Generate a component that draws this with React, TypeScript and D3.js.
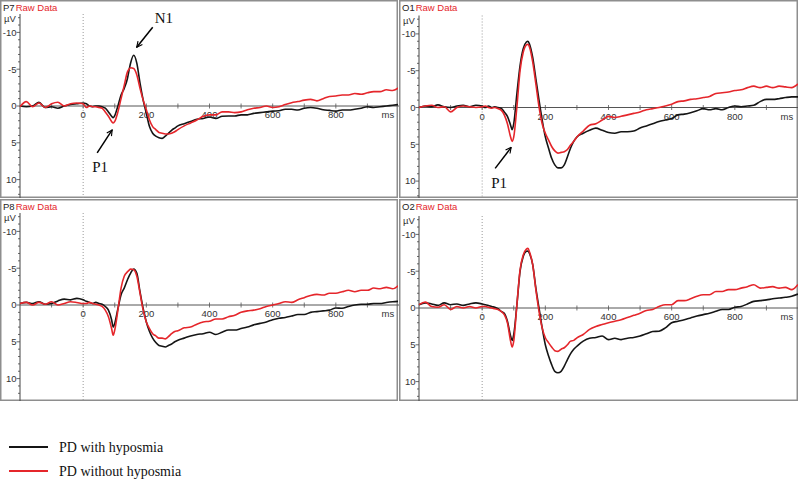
import * as d3 from "d3";

// sample times (ms)
const TIMES = [
  -200, -180, -160, -140, -120, -100, -80, -60, -40, -20, 0,
  10, 20, 30, 40, 50, 60, 70, 80, 90, 95, 100, 110, 120, 130, 140, 145, 150,
  160, 170, 180, 190, 200, 210, 220, 230, 240, 250, 260, 270, 280, 290, 300,
  320, 340, 360, 380, 400, 420, 440, 460, 480, 500, 520, 540, 560, 580, 600,
  620, 640, 660, 680, 700, 720, 740, 760, 780, 800, 820, 840, 860, 880, 900,
  920, 940, 960, 980, 1000,
];

// µV, negative up
const P7_HYPO = [
  0, 0.1, 0, -0.5, 0.2, 0.1, 0.3, 0, -0.2, -0.3, -0.4,
  -0.3, 0, 0.1, 0, 0, 0.1, 0.3, 0.8, 1.4, 1.6, 1.3, 0, -1.5, -2.4, -3.7, -4.8, -5.8,
  -6.9, -5.8, -3.1, -0.8, 1.0, 2.8, 3.7, 4.1, 4.3, 4.4, 4.1, 3.7, 3.3, 3.0, 2.7,
  2.4, 2.1, 1.8, 1.7, 1.5, 1.7, 1.4, 1.35, 1.35, 1.2, 1.2, 1.0, 0.9, 0.8, 0.7,
  0.65, 0.45, 0.45, 0.55, 0.3, 0.2, 0.3, 0.5, 0.6, 0.7, 0.55, 0.55, 0.45, 0.3, 0.1,
  0.2, 0.1, 0, -0.1, -0.2,
];
const P7_NORM = [
  0.1, -0.6, 0.1, -0.4, 0.2, -0.3, -0.5, 0, -0.3, -0.4, -0.3,
  0.2, 0, 0.1, 0.1, 0.2, 0.3, 0.8, 1.4, 2.1, 2.3, 2.1, 0.8, -1.0, -2.8, -4.6, -5.0, -5.2,
  -5.1, -4.2, -2.4, -0.8, 0.5, 1.9, 2.8, 3.2, 3.6, 3.7, 3.8, 3.8, 3.7, 3.5, 3.2,
  2.7, 2.3, 1.9, 1.4, 1.2, 1.2, 0.8, 0.8, 0.9, 0.8, 0.5, 0.3, 0.2, 0, 0.2,
  0.1, -0.2, -0.45, -0.6, -0.8, -0.9, -0.7, -1.0, -1.3, -1.35, -1.5, -1.5, -1.7, -1.6, -1.8,
  -1.95, -1.95, -2.2, -2.1, -2.5,
];
const O1_HYPO = [
  0, -0.2, -0.1, -0.35, -0.1, 0, -0.2, -0.3, -0.1, -0.3, -0.2,
  0, -0.2, 0, -0.1, 0, 0.1, 0.6, 1.2, 2.4, 3.0, 2.2, -1.9, -5.7, -8.0, -8.9, -9.0, -8.6,
  -6.8, -3.9, -1.0, 1.7, 4.0, 5.5, 6.9, 7.8, 8.2, 8.2, 7.8, 6.7, 5.5, 4.6, 4.0,
  3.5, 3.1, 2.8, 3.1, 3.4, 3.5, 3.3, 3.3, 3.2, 2.8, 2.5, 2.2, 1.9, 1.7, 1.5,
  1.0, 0.9, 0.7, 0.45, 0.15, 0.3, 0.15, 0.3, 0, -0.2, -0.1, -0.2, -0.3, -0.8, -1.1,
  -1.1, -1.2, -1.35, -1.45, -1.45,
];
const O1_NORM = [
  0, -0.2, -0.3, 0, -0.1, 0.6, 0, -0.2, -0.1, 0, -0.1,
  -0.2, 0, 0.1, 0, 0.15, 0.35, 1.0, 2.2, 4.0, 4.6, 4.0, -0.1, -5.0, -7.5, -8.5, -8.6, -8.2,
  -6.2, -3.2, -0.1, 2.2, 3.5, 4.4, 5.3, 5.9, 6.2, 6.1, 6.0, 5.7, 5.1, 4.6, 4.0,
  3.2, 2.4, 2.2, 1.7, 1.2, 1.35, 1.2, 1.0, 0.8, 0.6, 0.3, 0.15, 0, -0.2, -0.45,
  -0.8, -0.9, -1.1, -1.2, -1.35, -1.5, -1.9, -2.0, -2.1, -2.3, -2.4, -2.7, -2.9, -2.7, -2.9,
  -2.7, -2.9, -2.8, -2.7, -3.2,
];
const P8_HYPO = [
  -0.2, -0.35, -0.2, -0.45, -0.1, -0.2, -0.55, -0.8, -0.7, -0.9, -0.7,
  -0.5, -0.35, -0.2, -0.35, -0.2, -0.1, 0.2, 0.7, 2.0, 3.0, 2.5, 0.5, -1.4, -2.3, -3.4, -3.9, -4.3,
  -4.9, -4.3, -1.8, 0.5, 2.3, 3.6, 4.5, 5.1, 5.5, 5.6, 5.7, 5.5, 5.3, 5.0, 4.8,
  4.5, 4.2, 4.0, 3.9, 3.7, 4.0, 3.7, 3.4, 3.4, 3.2, 3.0, 2.7, 2.5, 2.3, 2.0,
  1.8, 1.7, 1.5, 1.3, 1.3, 1.0, 0.9, 0.8, 0.7, 0.4, 0.45, 0.2, 0, -0.1, -0.1,
  -0.2, -0.2, -0.35, -0.45, -0.5,
];
const P8_NORM = [
  -0.2, -0.35, 0, -0.35, -0.1, -0.45, 0, -0.2, -0.45, -0.35, -0.2,
  -0.2, -0.35, -0.2, -0.1, 0, 0.2, 0.7, 1.6, 3.2, 4.1, 3.4, 0.7, -2.3, -3.9, -4.5, -4.7, -4.9,
  -4.8, -3.9, -1.6, 0.7, 2.3, 3.2, 3.9, 4.2, 4.5, 4.5, 4.6, 4.3, 3.9, 3.6, 3.5,
  3.1, 3.0, 2.6, 2.3, 2.2, 1.9, 1.9, 1.6, 1.4, 1.0, 0.8, 0.7, 0.5, 0.2, 0,
  -0.2, -0.45, -0.35, -0.7, -1.0, -1.3, -1.45, -1.35, -1.6, -1.6, -1.8, -2.0, -1.8, -2.0, -2.0,
  -2.3, -2.2, -2.4, -2.2, -2.7,
];
const O2_HYPO = [
  -0.45, -0.7, -0.55, -0.35, -0.7, -0.45, -0.55, -0.35, -0.55, -0.7, -0.55,
  -0.45, -0.35, -0.2, -0.1, 0.1, 0.45, 0.7, 1.8, 3.8, 4.4, 3.6, -0.45, -5.0, -7.0, -7.7, -7.75, -7.4,
  -5.9, -2.7, 0, 2.7, 5.0, 6.5, 7.7, 8.6, 8.8, 8.6, 7.9, 7.0, 6.2, 5.6, 5.2,
  4.5, 4.1, 4.0, 3.8, 4.3, 4.1, 4.3, 4.1, 4.0, 3.8, 3.5, 3.2, 3.15, 2.7, 2.0,
  1.8, 1.6, 1.35, 1.1, 0.9, 0.7, 0.45, 0.2, 0.2, -0.1, -0.2, -0.55, -0.9, -1.0, -1.1,
  -1.25, -1.35, -1.45, -1.6, -1.9,
];
const O2_NORM = [
  -0.45, -0.8, -0.2, -0.1, -0.45, 0.2, -0.2, 0, -0.2, 0, -0.2,
  -0.2, -0.1, 0, 0.1, 0.2, 0.45, 0.9, 2.0, 4.5, 5.3, 4.5, -0.45, -5.2, -7.2, -8.0, -8.1, -7.6,
  -5.9, -2.5, 0.45, 2.7, 4.05, 4.7, 5.3, 5.8, 5.9, 5.6, 5.4, 5.0, 4.5, 4.4, 4.05,
  3.6, 2.9, 2.5, 2.25, 2.0, 1.8, 1.6, 1.3, 1.0, 0.7, 0.35, 0.2, -0.2, -0.45, -0.45,
  -1.0, -1.0, -1.25, -1.6, -1.8, -1.8, -2.25, -2.25, -2.5, -2.5, -2.7, -2.9, -3.15, -2.7, -2.8,
  -2.9, -2.7, -2.8, -2.5, -3.2,
];

const Y_TICKS = [-10, -5, 0, 5, 10];
const X_TICKS = [0, 200, 400, 600, 800];
const SERIES_NAMES = ["PD with hyposmia", "PD without hyposmia"];

const BLACK = "#151515";
const RED = "#e5262b";

const panels = [
  { name: "P7", hypo: P7_HYPO, norm: P7_NORM, x0: 0, y0: 0, w: 398, h: 198, zero: 106 },
  { name: "O1", hypo: O1_HYPO, norm: O1_NORM, x0: 399, y0: 0, w: 399, h: 198, zero: 107.5 },
  { name: "P8", hypo: P8_HYPO, norm: P8_NORM, x0: 0, y0: 199, w: 398, h: 202, zero: 305 },
  { name: "O2", hypo: O2_HYPO, norm: O2_NORM, x0: 399, y0: 199, w: 399, h: 202, zero: 308 },
];

const axisFont = "Arial, 'Liberation Sans', sans-serif";
const serif = "'Times New Roman', 'Liberation Serif', serif";

function Panel({ p, idx }) {
  const x = d3.scaleLinear().domain([-200, 1000]).range([p.x0 + 20, p.x0 + 399]);
  const y = d3.scaleLinear().domain([-12.5, 12.5]).range([p.zero - 92, p.zero + 92]);
  const line = d3
    .line()
    .x((d, i) => x(TIMES[i]))
    .y((d) => y(d))
    .curve(d3.curveMonotoneX);
  const bottom = p.y0 + p.h;
  const axX = x(-200);
  const minor = d3.range(-12, 13);
  const xMinor = d3.range(-100, 1000, 100);

  return (
    <g>
      <clipPath id={`clip${idx}`}>
        <rect x={p.x0} y={p.y0} width={p.w} height={p.h} />
      </clipPath>
      <rect x={p.x0 + 0.75} y={p.y0 + 0.75} width={p.w - 1.5} height={p.h - 1.5} fill="#fff" stroke="#8e8e8e" strokeWidth={1.5} />
      <text x={p.x0 + 3} y={p.y0 + 11} fontFamily={axisFont} fontSize={9.5} fill="#222">
        {p.name}
        <tspan fill={RED} dx={1}>Raw Data</tspan>
      </text>
      <text x={p.x0 + 4} y={y(-12.5) + 8} fontFamily={axisFont} fontSize={9.5} fill="#333">µV</text>

      {/* y axis */}
      <line x1={axX} x2={axX} y1={y(-12.5)} y2={bottom} stroke="#444" strokeWidth={1} />
      {minor.map((v) => (
        <line key={v} x1={axX - (v % 5 === 0 ? 3.5 : 2)} x2={axX} y1={y(v)} y2={y(v)} stroke="#444" strokeWidth={0.8} />
      ))}
      {Y_TICKS.map((v) => (
        <text key={v} x={axX - 3.5} y={y(v)} dy="0.35em" textAnchor="end" fontFamily={axisFont} fontSize={9.5} fill="#333">
          {v}
        </text>
      ))}

      {/* time zero marker */}
      <line x1={x(0)} x2={x(0)} y1={y(-12.5)} y2={bottom} stroke="#999" strokeWidth={1} strokeDasharray="1,2" />

      {/* zero line */}
      <line x1={axX} x2={x(1000)} y1={y(0)} y2={y(0)} stroke="#555" strokeWidth={1} />
      {xMinor.map((t) => (
        <line key={t} x1={x(t)} x2={x(t)} y1={y(0) - 2.5} y2={y(0) + 2.5} stroke="#555" strokeWidth={0.8} />
      ))}
      {X_TICKS.map((t) => (
        <text key={t} x={x(t)} y={y(0) + 9} dy="0.35em" textAnchor="middle" fontFamily={axisFont} fontSize={9.5} fill="#333">
          {t}
        </text>
      ))}
      <text x={x(965)} y={y(0) + 9} dy="0.35em" textAnchor="middle" fontFamily={axisFont} fontSize={9.5} fill="#333">ms</text>

      <g clipPath={`url(#clip${idx})`}>
        <path d={line(p.hypo)} fill="none" stroke={BLACK} strokeWidth={1.6} />
        <path d={line(p.norm)} fill="none" stroke={RED} strokeWidth={1.6} />
      </g>

      {p.name === "P7" && (
        <g>
          <line x1={x(160) + 19} y1={y(-6.9) - 28} x2={x(160) + 3} y2={y(-6.9) - 8} stroke="#000" strokeWidth={1.5} markerEnd="url(#arrow)" />
          <text x={x(160) + 21} y={y(-6.9) - 32} fontFamily={serif} fontSize={15} fill="#111">N1</text>
          <line x1={x(95) - 16} y1={y(2.3) + 30} x2={x(95) - 1} y2={y(2.3) + 7} stroke="#000" strokeWidth={1.5} markerEnd="url(#arrow)" />
          <text x={x(95) - 21} y={y(2.3) + 49} fontFamily={serif} fontSize={15} fill="#111">P1</text>
        </g>
      )}
      {p.name === "O1" && (
        <g>
          <line x1={x(95) - 17} y1={y(4.6) + 27} x2={x(95) - 1} y2={y(4.6) + 6} stroke="#000" strokeWidth={1.5} markerEnd="url(#arrow)" />
          <text x={x(95) - 21} y={y(4.6) + 47} fontFamily={serif} fontSize={15} fill="#111">P1</text>
        </g>
      )}
    </g>
  );
}

export default function App() {
  return (
    <svg
      width={800}
      height={479}
      style={{ position: "absolute", left: 0, top: 0, display: "block", background: "#fff" }}
    >
      <defs>
        <marker id="arrow" viewBox="0 0 10 10" refX="9" refY="5" markerWidth="7" markerHeight="7" orient="auto" markerUnits="userSpaceOnUse">
          <path d="M1,1 L9,5 L1,9" fill="none" stroke="#000" strokeWidth={1.6} />
        </marker>
      </defs>
      <rect width={800} height={479} fill="#fff" />
      {panels.map((p, i) => (
        <Panel key={p.name} p={p} idx={i} />
      ))}
      {SERIES_NAMES.map((s, i) => (
        <g key={s}>
          <line x1={9} x2={48} y1={447 + i * 24} y2={447 + i * 24} stroke={i === 0 ? BLACK : RED} strokeWidth={2} />
          <text x={59} y={447 + i * 24} dy="0.35em" fontFamily={serif} fontSize={14} fill="#111">
            {s}
          </text>
        </g>
      ))}
    </svg>
  );
}
